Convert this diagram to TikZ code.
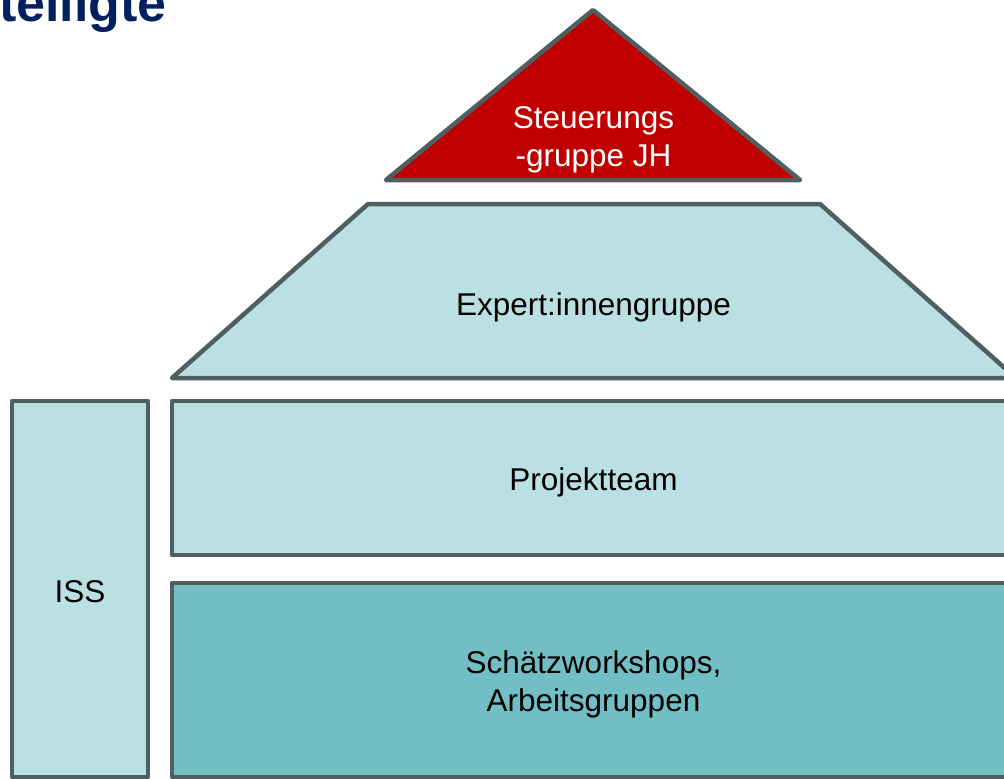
\documentclass[tikz,border=0pt]{standalone}
\usepackage{fontspec}
\setmainfont{Liberation Sans}
\usepackage{xcolor}
\usetikzlibrary{positioning}
\definecolor{edgegray}{HTML}{4F5F5F}
\definecolor{topred}{HTML}{C00000}
\definecolor{paleblue}{HTML}{BBE0E3}
\definecolor{tealblue}{HTML}{72BEC5}
\definecolor{navy}{HTML}{002060}
\begin{document}
\begin{tikzpicture}[x=1pt,y=-1pt]

\tikzset{layer/.style={
  draw=edgegray,
  line width=4.5pt,
  line join=round
  },
  lbl/.style={
  inner sep=0pt,
  align=center,
  anchor=base,
  font=\fontsize{31.5}{38}\selectfont
  }}

\useasboundingbox (0,0) rectangle (1004,779);
\clip (0,0) rectangle (1004,779);

\node[anchor=base west, inner sep=0pt, text=navy, font=\fontsize{52}{60}\selectfont\bfseries] (title) at (-1,21) {teiligte};

%pyramid
\path[layer, fill=topred] (593,10) -- (800,180) -- (386,180) -- cycle;
\path[layer, fill=paleblue] (368,204) -- (820,204) -- (1016,378) -- (172,378) -- cycle;
\path[layer, fill=paleblue] (172,401) rectangle (1030,555);
\path[layer, fill=tealblue] (172,583) rectangle (1030,777);
\path[layer, fill=paleblue] (12,401) rectangle (148,777);

\node[lbl, text=white] (steuer) at (593.5,166) {Steuerungs\\-gruppe JH};
\node[lbl] (expert) at (593.5,315) {Expert:innengruppe};
\node[lbl] (projekt) at (593.5,490) {Projektteam};
\node[lbl] (workshops) at (593.5,711) {Schätzworkshops,\\Arbeitsgruppen};
\node[lbl] (iss) at (80,602) {ISS};

\end{tikzpicture}
\end{document}
